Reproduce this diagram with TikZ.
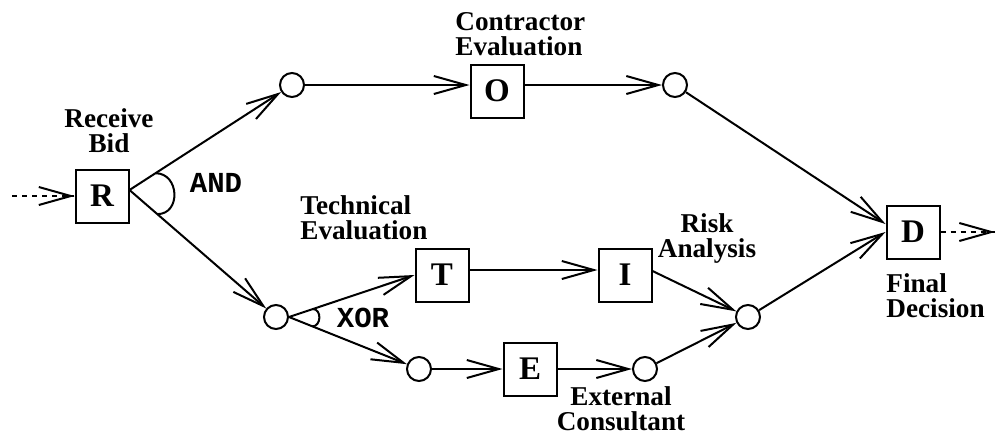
\documentclass[tikz,border=0pt]{standalone}
\usepackage{fontspec}
\setmainfont{Liberation Serif}
\newfontfamily\monofam{Liberation Mono}
\usetikzlibrary{arrows.meta,calc}
\begin{document}
\begin{tikzpicture}[x=0.5pt,y=-0.5pt,
  box/.style={draw,line width=1pt,minimum width=26.5pt,minimum height=26.5pt,inner sep=0pt,font=\fontsize{16.5}{18}\selectfont\bfseries},
  place/.style={draw,circle,line width=1pt,minimum size=12pt,inner sep=0pt},
  lbl/.style={font=\fontsize{13.6}{12.5}\selectfont\bfseries,inner sep=0pt},
  gate/.style={font=\fontsize{14.5}{15}\selectfont\monofam\bfseries,inner sep=0pt},
  flow/.style={line width=1pt,-{Straight Barb[length=16pt,width=9pt]}},
  dotline/.style={line width=1pt,dash pattern=on 2.5pt off 2.5pt,shorten >=2pt},
  arcline/.style={line width=1pt}]
\useasboundingbox (0,0) rectangle (996,435);
% boxes
\node[box] (R) at (102,196) {R};
\node[box] (O) at (497,91) {O};
\node[box] (T) at (442,275) {T};
\node[box] (I) at (625,275) {I};
\node[box] (E) at (530,369) {E};
\node[box] (D) at (913,232) {D};
% places
\node[place] (c1) at (292,85) {};
\node[place] (c6) at (675,85) {};
\node[place] (c2) at (276,317) {};
\node[place] (c3) at (419,369) {};
\node[place] (c5) at (645,369) {};
\node[place] (c4) at (748,317) {};
\coordinate (in) at (12,196);
\coordinate (out) at (995,232);
\coordinate (Ra) at ([yshift=3pt]R.east);
% connectors
\draw[dotline] (in) -- (R.west);
\draw[flow] ([xshift=-0.2pt]R.west) -- (R.west);
\draw[flow] (Ra) -- (c1);
\draw[flow] (Ra) -- (c2);
\draw[flow] (c1.east) -- ([yshift=3pt]O.west);
\draw[flow] ([yshift=3pt]O.east) -- (c6.west);
\draw[flow] (c6) -- ([yshift=4pt]D.west);
\draw[flow] (c2.east) -- (T.west);
\draw[flow] (c2.east) -- (c3);
\draw[flow] ([yshift=2.5pt]T.east) -- ([yshift=2.5pt]I.west);
\draw[flow] ([yshift=2pt]I.east) -- (c4);
\draw[flow] (c3.east) -- (E.west);
\draw[flow] (E.east) -- (c5.west);
\draw[flow] (c5) -- (c4);
\draw[flow] (c4) -- (D.west);
\draw[dotline] (D.east) -- (out);
\draw[flow] ([xshift=-0.2pt]out) -- (out);
% gate arcs
\coordinate (andA) at ($(Ra)!0.16!(c1)$);
\coordinate (andB) at ($(Ra)!0.19!(c2)$);
\draw[arcline] (andA) .. controls ($(andA)+(24,0)$) and ($(andB)+(24,0)$) .. (andB);
\coordinate (xorA) at ($(c2.east)!0.19!(T.west)$);
\coordinate (xorB) at ($(c2.east)!0.18!(c3)$);
\draw[arcline] (xorA) .. controls ($(xorA)+(9,0)$) and ($(xorB)+(9,0)$) .. (xorB);
% labels
\node[lbl,align=center] (lR) at (109,131) {Receive\\Bid};
\node[lbl,align=left,anchor=west] (lO) at (455,34.5) {Contractor\\Evaluation};
\node[lbl,align=left,anchor=west] (lT) at (300,217.5) {Technical\\Evaluation};
\node[lbl,align=center] (lI) at (707,238.5) {Risk\\Analysis};
\node[lbl,align=left,anchor=west] (lD) at (886,296) {Final\\Decision};
\node[lbl,align=center] (lE) at (621,408.5) {External\\Consultant};
\node[gate] (and) at (216,182.5) {AND};
\node[gate] (xor) at (363,317.5) {XOR};
\end{tikzpicture}
\end{document}
